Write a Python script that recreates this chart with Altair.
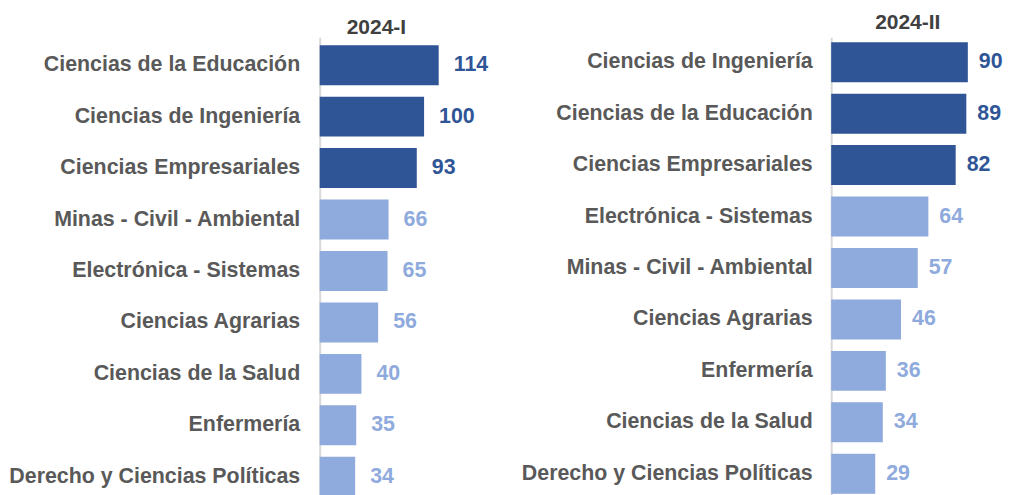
import altair as alt
import pandas as pd

cats_1 = ["Ciencias de la Educación", "Ciencias de Ingeniería", "Ciencias Empresariales",
          "Minas - Civil - Ambiental", "Electrónica - Sistemas", "Ciencias Agrarias",
          "Ciencias de la Salud", "Enfermería", "Derecho y Ciencias Políticas"]
vals_1 = [114, 100, 93, 66, 65, 56, 40, 35, 34]

cats_2 = ["Ciencias de Ingeniería", "Ciencias de la Educación", "Ciencias Empresariales",
          "Electrónica - Sistemas", "Minas - Civil - Ambiental", "Ciencias Agrarias",
          "Enfermería", "Ciencias de la Salud", "Derecho y Ciencias Políticas"]
vals_2 = [90, 89, 82, 64, 57, 46, 36, 34, 29]

DARK = "#2F5597"
LIGHT = "#8FAADC"
FONT = "Liberation Sans"
FS = 21.4


def panel(cats, vals, title, xmax, width, height, po, tdx, tdy, lpad, dx):
    df = pd.DataFrame({"cat": cats, "val": vals})
    df["top"] = df["val"].rank(ascending=False, method="first") <= 3
    df["grp"] = df["top"].map({True: "top", False: "rest"})
    color = alt.Color("grp:N", scale=alt.Scale(domain=["top", "rest"], range=[DARK, LIGHT]), legend=None)
    y = alt.Y("cat:N", sort=cats, title=None,
              scale=alt.Scale(paddingInner=0.223, paddingOuter=po, round=False),
              axis=alt.Axis(ticks=False, labelFontSize=FS, labelFont=FONT, labelFontWeight="bold",
                            labelColor="#595959", labelPadding=lpad, labelLimit=500,
                            domainColor="#D9D9D9", domainWidth=2, grid=False))
    x = alt.X("val:Q", scale=alt.Scale(domain=[0, xmax], nice=False, zero=True), axis=None)
    base = alt.Chart(df)
    bars = base.mark_bar().encode(x=x, y=y, color=color)
    text = base.mark_text(align="left", baseline="middle", dx=dx, fontSize=FS, font=FONT,
                          fontWeight="bold").encode(x=x, y=y, text="val:Q", color=color)
    return (bars + text).properties(
        width=width, height=height,
        title=alt.TitleParams(title, anchor="start", frame="group", dx=tdx, dy=tdy, fontSize=21,
                              font=FONT, fontWeight="bold", color="#404040", offset=-1))


left = panel(cats_1, vals_1, "2024-I", 180 / 1.045, 180, 468, 0.155, 27, 0, 20, 15)
right = panel(cats_2, vals_2, "2024-II", 170 / 1.52, 170, 462, 0.097, 44, -5, 19, 11)

chart = alt.hconcat(left, right, spacing=21).configure_view(stroke=None).properties(
    padding={"left": 0, "top": 4, "right": 0, "bottom": 0})

chart.save("out.html", embed_options={"renderer": "svg", "actions": False})
